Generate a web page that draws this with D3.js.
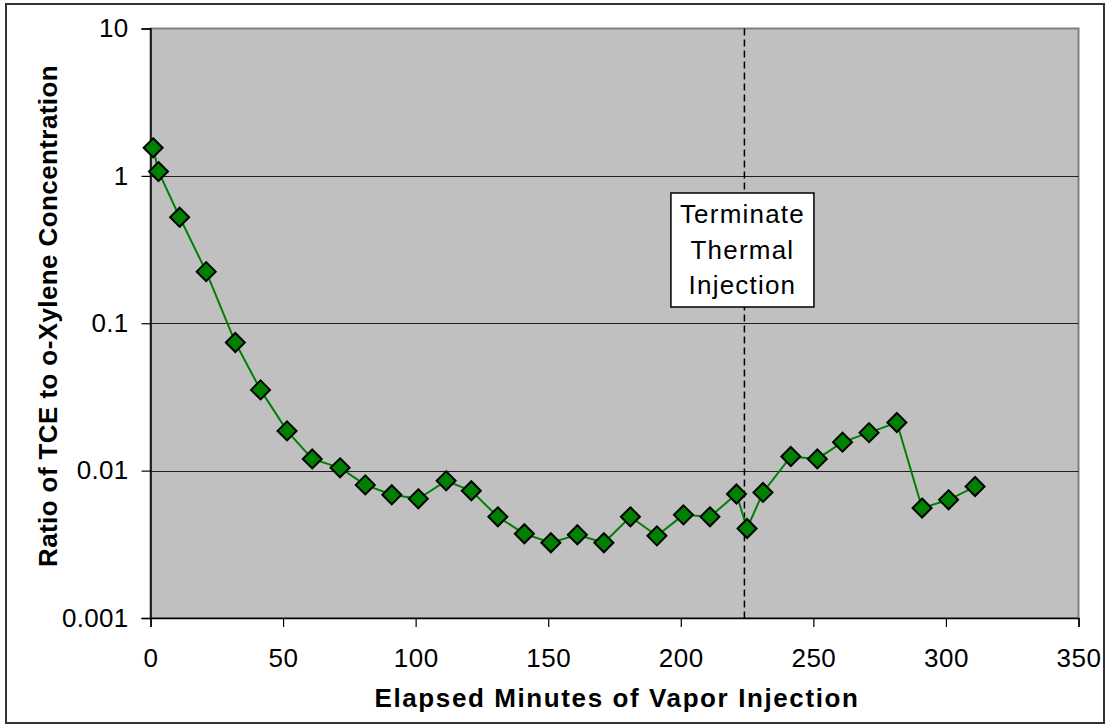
<!DOCTYPE html>
<html>
<head>
<meta charset="utf-8">
<script src="https://cdn.jsdelivr.net/npm/d3@7/dist/d3.min.js"></script>
<style>
  html, body { margin: 0; padding: 0; background: #fff; }
  svg { display: block; font-family: "Liberation Sans", Arial, sans-serif; }
</style>
</head>
<body>
<svg id="chart" width="1110" height="725"></svg>
<script>
// Elapsed minutes of vapor injection at each sample
const minutes = [1, 3, 11, 21, 32, 41.5, 51.5, 61, 71.5, 81, 91, 101, 111.5, 121, 131, 141, 151, 161, 171, 181, 191, 201, 211, 221, 225, 231, 241.5, 251.5, 261, 271, 281.5, 291, 301, 311];
// Ratio of TCE to o-xylene concentration at each sample
const ratios = [1.55, 1.07, 0.524, 0.224, 0.074, 0.0353, 0.0186, 0.0120, 0.01045, 0.0080, 0.00686, 0.00644, 0.00853, 0.0073, 0.00486, 0.00373, 0.00324, 0.00367, 0.00324, 0.00486, 0.00361, 0.00501, 0.00486, 0.00694, 0.00405, 0.00711, 0.01247, 0.0120, 0.0156, 0.0181, 0.0212, 0.00557, 0.00634, 0.0078];

const xTicks = [0, 50, 100, 150, 200, 250, 300, 350];
const yTicks = [0.001, 0.01, 0.1, 1, 10];
const yTickLabels = ["0.001", "0.01", "0.1", "1", "10"];
const terminateMinute = 224;
const noteLines = ["Terminate", "Thermal", "Injection"];

const svg = d3.select("#chart");
const W = 1110, H = 725;
const plot = { left: 150.5, right: 1078.5, top: 28.5, bottom: 618 };
const FONT = "'Liberation Sans', Arial, sans-serif";

const x = d3.scaleLinear().domain([0, 350]).range([plot.left, plot.right]);
const y = d3.scaleLog().domain([0.001, 10]).range([plot.bottom, plot.top]);

// outer frame
svg.append("rect")
  .attr("x", 6).attr("y", 4).attr("width", W - 12).attr("height", H - 6)
  .attr("fill", "#fff").attr("stroke", "#333").attr("stroke-width", 2);

// plot area
svg.append("rect")
  .attr("x", plot.left).attr("y", plot.top)
  .attr("width", plot.right - plot.left).attr("height", plot.bottom - plot.top)
  .attr("fill", "#c0c0c0").attr("stroke", "#808080").attr("stroke-width", 2);

// horizontal gridlines
svg.append("g").selectAll("line")
  .data(yTicks.filter(d => d > 0.001 && d < 10))
  .join("line")
  .attr("x1", plot.left).attr("x2", plot.right)
  .attr("y1", d => Math.round(y(d)) + 0.5).attr("y2", d => Math.round(y(d)) + 0.5)
  .attr("stroke", "#202020").attr("stroke-width", 1);

// y axis
const yAxis = d3.axisLeft(y)
  .tickValues(yTicks)
  .tickFormat((d, i) => yTickLabels[i])
  .tickSizeOuter(0).tickSize(9).tickPadding(13);
const gy = svg.append("g").attr("transform", `translate(${plot.left},0)`).call(yAxis);
gy.attr("font-family", FONT);
gy.select(".domain").attr("stroke", "#000").attr("stroke-width", 1.5);
gy.selectAll(".tick line").attr("stroke", "#000").attr("stroke-width", 1.2);
gy.selectAll(".tick text").attr("font-size", 26).attr("fill", "#000")
  .attr("letter-spacing", 0.3);

// x axis
const xAxis = d3.axisBottom(x)
  .tickValues(xTicks)
  .tickSizeOuter(0).tickSize(9).tickPadding(22);
const gx = svg.append("g").attr("transform", `translate(0,${plot.bottom})`).call(xAxis);
gx.attr("font-family", FONT);
gx.select(".domain").attr("stroke", "#000").attr("stroke-width", 1.5);
gx.selectAll(".tick line").attr("stroke", "#000").attr("stroke-width", 1.2);
gx.selectAll(".tick text").attr("font-size", 26).attr("fill", "#000")
  .attr("letter-spacing", 0.5);

// termination marker
svg.append("line")
  .attr("x1", x(terminateMinute)).attr("x2", x(terminateMinute))
  .attr("y1", plot.top).attr("y2", plot.bottom)
  .attr("stroke", "#000").attr("stroke-width", 1.5)
  .attr("stroke-dasharray", "7,4");

// data line
svg.append("path")
  .datum(minutes.map((m, i) => [m, ratios[i]]))
  .attr("fill", "none").attr("stroke", "#008000").attr("stroke-width", 2)
  .attr("d", d3.line().x(d => x(d[0])).y(d => y(d[1])));

// diamond markers
const r = 9.5;
svg.append("g").selectAll("path")
  .data(minutes.map((m, i) => [m, ratios[i]]))
  .join("path")
  .attr("d", d => {
    const cx = x(d[0]), cy = y(d[1]);
    return `M${cx},${cy - r}L${cx + r},${cy}L${cx},${cy + r}L${cx - r},${cy}Z`;
  })
  .attr("fill", "#008000").attr("stroke", "#000").attr("stroke-width", 2);

// annotation box
const boxCx = x(terminateMinute) - 2;
svg.append("rect")
  .attr("x", boxCx - 71.5).attr("y", 193).attr("width", 143).attr("height", 114)
  .attr("fill", "#fff").attr("stroke", "#000").attr("stroke-width", 1.5);
svg.append("g").selectAll("text")
  .data(noteLines)
  .join("text")
  .attr("x", boxCx).attr("y", (d, i) => 223 + i * 35.5)
  .attr("text-anchor", "middle").attr("font-size", 26).attr("fill", "#000")
  .attr("letter-spacing", 1.2)
  .text(d => d);

// axis titles
svg.append("text")
  .attr("x", 617).attr("y", 707)
  .attr("text-anchor", "middle").attr("font-size", 26).attr("font-weight", "bold")
  .attr("letter-spacing", 1.6)
  .text("Elapsed Minutes of Vapor Injection");
svg.append("text")
  .attr("transform", "translate(57,316) rotate(-90)")
  .attr("text-anchor", "middle").attr("font-size", 26).attr("font-weight", "bold")
  .attr("letter-spacing", 0.4)
  .text("Ratio of TCE to o-Xylene Concentration");
</script>
</body>
</html>
